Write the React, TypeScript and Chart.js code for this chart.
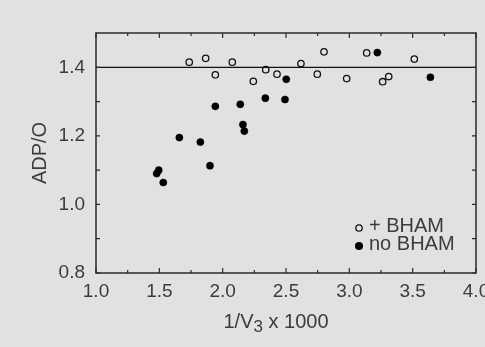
import React, { useEffect, useRef } from "react";
import { Chart, registerables } from "chart.js";

Chart.register(...registerables);

// + BHAM (open circles)
const openX = [1.736, 1.866, 1.942, 2.076, 2.242, 2.34, 2.429, 2.618, 2.747, 2.8, 2.979, 3.137, 3.263, 3.311, 3.513];
const openY = [1.415, 1.426, 1.378, 1.415, 1.359, 1.393, 1.38, 1.411, 1.38, 1.445, 1.367, 1.442, 1.358, 1.373, 1.424];
// no BHAM (filled circles)
const filledX = [1.479, 1.495, 1.531, 1.658, 1.824, 1.9, 1.942, 2.139, 2.16, 2.171, 2.337, 2.492, 2.502, 3.221, 3.64];
const filledY = [1.09, 1.1, 1.064, 1.195, 1.182, 1.113, 1.286, 1.292, 1.233, 1.214, 1.31, 1.306, 1.365, 1.443, 1.371];

const referenceLineY = 1.4;
const xRange = [1.0, 4.0];
const yRange = [0.8, 1.5];
const xTickLabels = [1.0, 1.5, 2.0, 2.5, 3.0, 3.5, 4.0];
const xMinorTicks = [1.25, 1.75, 2.25, 2.75, 3.25, 3.75];
const yTickLabels = [0.8, 1.0, 1.2, 1.4];
const yMinorTicks = [0.9, 1.1, 1.3];
const seriesLabels = ["+ BHAM", "no BHAM"];
const xTitleParts = ["1/V", "3", " x 1000"];
const yTitle = "ADP/O";

const FONT = "'Liberation Sans', Arial, sans-serif";
const TEXT = "#3c3c3c";
const INK = "#111111";

const framePlugin = {
  id: "frame",
  afterDraw(chart: any) {
    const { ctx, chartArea: a, scales } = chart;
    const xs = scales.x;
    const ys = scales.y;
    ctx.save();
    ctx.strokeStyle = "#2a2a2a";
    ctx.lineWidth = 1.5;
    ctx.strokeRect(a.left, a.top, a.right - a.left, a.bottom - a.top);
    ctx.lineWidth = 1.2;
    ctx.beginPath();
    const xt = (v: number, len: number) => {
      const px = xs.getPixelForValue(v);
      ctx.moveTo(px, a.bottom);
      ctx.lineTo(px, a.bottom - len);
      ctx.moveTo(px, a.top);
      ctx.lineTo(px, a.top + len);
    };
    const yt = (v: number, len: number) => {
      const py = ys.getPixelForValue(v);
      ctx.moveTo(a.left, py);
      ctx.lineTo(a.left + len, py);
      ctx.moveTo(a.right, py);
      ctx.lineTo(a.right - len, py);
    };
    xTickLabels.forEach((v) => xt(v, 5));
    xMinorTicks.forEach((v) => xt(v, 3));
    yTickLabels.forEach((v) => yt(v, 4));
    yMinorTicks.forEach((v) => yt(v, 4));
    ctx.stroke();

    // x-axis title with a real subscript
    const big = `20px ${FONT}`;
    const small = `17px ${FONT}`;
    ctx.textBaseline = "alphabetic";
    ctx.textAlign = "left";
    ctx.fillStyle = TEXT;
    ctx.font = big;
    const w0 = ctx.measureText(xTitleParts[0]).width;
    const w2 = ctx.measureText(xTitleParts[2]).width;
    ctx.font = small;
    const w1 = ctx.measureText(xTitleParts[1]).width;
    const total = w0 + w1 + w2;
    const center = (a.left + a.right) / 2 - 10;
    const base = a.bottom + 55;
    let x = center - total / 2;
    ctx.font = big;
    ctx.fillText(xTitleParts[0], x, base);
    x += w0;
    ctx.font = small;
    ctx.fillText(xTitleParts[1], x, base + 4);
    x += w1;
    ctx.font = big;
    ctx.fillText(xTitleParts[2], x, base);

    // legend
    const ds = chart.data.datasets;
    const cx = a.right - 117;
    const rows = [a.bottom - 45, a.bottom - 27];
    ctx.font = `20px ${FONT}`;
    [0, 1].forEach((i) => {
      const cy = rows[i];
      ctx.beginPath();
      if (i === 0) {
        ctx.arc(cx, cy, 3.2, 0, Math.PI * 2);
        ctx.lineWidth = 1.3;
        ctx.strokeStyle = INK;
        ctx.stroke();
      } else {
        ctx.arc(cx, cy, 4, 0, Math.PI * 2);
        ctx.fillStyle = "#000";
        ctx.fill();
      }
      ctx.fillStyle = TEXT;
      ctx.fillText(ds[i].label, cx + 10, cy + 4);
    });
    ctx.restore();
  },
};

export default function App() {
  const ref = useRef<HTMLCanvasElement | null>(null);
  useEffect(() => {
    document.body.style.margin = "0";
    if (!ref.current) return;
    const chart = new Chart(ref.current, {
      type: "scatter",
      data: {
        datasets: [
          {
            label: seriesLabels[0],
            data: openX.map((x, i) => ({ x, y: openY[i] })),
            pointRadius: 3.2,
            pointBorderWidth: 1.3,
            pointBorderColor: INK,
            pointBackgroundColor: "rgba(0,0,0,0)",
          },
          {
            label: seriesLabels[1],
            data: filledX.map((x, i) => ({ x, y: filledY[i] })),
            pointRadius: 3.6,
            pointBorderWidth: 0.5,
            pointBorderColor: "#000",
            pointBackgroundColor: "#000",
          },
          {
            type: "line",
            label: "ref",
            data: [
              { x: xRange[0], y: referenceLineY },
              { x: xRange[1], y: referenceLineY },
            ],
            borderColor: INK,
            borderWidth: 1.3,
            pointRadius: 0,
            fill: false,
          } as any,
        ],
      },
      options: {
        animation: false,
        responsive: false,
        layout: { padding: { left: 0, right: 9, top: 33, bottom: 0 } },
        plugins: {
          legend: { display: false },
          tooltip: { enabled: false },
        },
        scales: {
          x: {
            type: "linear",
            min: xRange[0],
            max: xRange[1],
            grid: { display: false, drawTicks: false },
            border: { display: false },
            afterBuildTicks: (s: any) => {
              s.ticks = xTickLabels.map((v) => ({ value: v }));
            },
            afterFit: (s: any) => {
              s.height = 74;
              s.paddingLeft = 0;
              s.paddingRight = 0;
            },
            ticks: {
              padding: 7,
              maxRotation: 0,
              autoSkip: false,
              color: TEXT,
              font: { family: FONT, size: 19 },
              callback: (v: any) => Number(v).toFixed(1),
            },
            title: { display: false },
          },
          y: {
            type: "linear",
            min: yRange[0],
            max: yRange[1],
            grid: { display: false, drawTicks: false },
            border: { display: false },
            afterBuildTicks: (s: any) => {
              s.ticks = yTickLabels.map((v) => ({ value: v }));
            },
            afterFit: (s: any) => {
              s.width = 96;
              s.paddingTop = 0;
              s.paddingBottom = 0;
            },
            ticks: {
              padding: 11,
              autoSkip: false,
              color: TEXT,
              font: { family: FONT, size: 19 },
              callback: (v: any) => Number(v).toFixed(1),
            },
            title: {
              display: true,
              text: yTitle,
              color: TEXT,
              font: { family: FONT, size: 20 },
              padding: { top: 28, bottom: 28 },
            },
          },
        },
      },
      plugins: [framePlugin],
    });
    return () => chart.destroy();
  }, []);
  return (
    <div style={{ width: 485, height: 347, background: "#e1e1e1", overflow: "hidden" }}>
      <canvas ref={ref} width={485} height={347} style={{ display: "block" }} />
    </div>
  );
}
